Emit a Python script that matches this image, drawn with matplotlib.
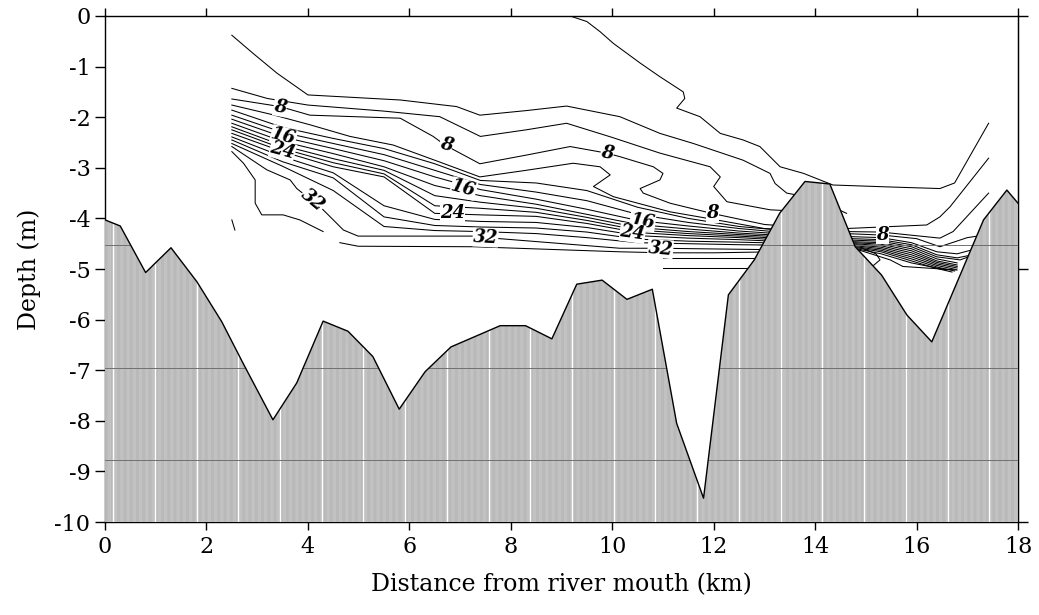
import numpy as np
import matplotlib
matplotlib.use('Agg')
import matplotlib.pyplot as plt
from matplotlib.patches import Polygon

plt.rcParams['font.family'] = 'DejaVu Serif'
plt.rcParams['hatch.linewidth'] = 0.45

# bottom profile along the section (km, m)
bed_x = [0, 0.3, 0.8, 1.3, 1.81, 2.3, 2.72, 3.31, 3.78, 4.3, 4.79, 5.28, 5.8, 6.31,
         6.82, 7.79, 8.29, 8.81, 9.3, 9.8, 10.29, 10.79, 11.27, 11.8, 12.29, 12.8,
         13.3, 13.8, 14.29, 14.79, 15.31, 15.81, 16.3, 17.32, 17.78, 18.0]
bed_z = [-4.03, -4.15, -5.07, -4.58, -5.25, -6.04, -6.86, -7.98, -7.25, -6.03, -6.23,
         -6.73, -7.77, -7.03, -6.54, -6.12, -6.12, -6.38, -5.3, -5.22, -5.6, -5.4,
         -8.05, -9.53, -5.51, -4.82, -3.9, -3.27, -3.32, -4.56, -5.12, -5.91, -6.44,
         -4.03, -3.44, -3.7]

# isohalines (psu), seaward part up to the 14 km shoal
s02_x = [9.17, 9.5, 9.76, 10.02, 10.55, 10.94, 11.4, 11.43, 11.27, 11.73, 12.13, 12.58,
         12.91, 13.31, 13.77, 14.35, 15.5, 16.46, 16.75, 17.42]
s02_z = [0, -0.11, -0.31, -0.54, -0.93, -1.2, -1.5, -1.63, -1.82, -1.99, -2.32, -2.45,
         -2.58, -2.98, -3.11, -3.34, -3.38, -3.41, -3.3, -2.12]

s04_x = [2.5, 2.92, 3.39, 4.0, 5.82, 6.93, 7.39, 8.3, 9.1, 10.15, 10.94, 11.6, 12.58,
         13.11, 13.21, 13.44, 13.7]
s04_z = [-0.38, -0.74, -1.13, -1.56, -1.66, -1.79, -1.96, -1.87, -1.78, -1.99, -2.32,
         -2.52, -2.85, -3.11, -3.31, -3.5, -3.55]

s06_x = [2.5, 3.2, 4.0, 5.5, 6.6, 7.4, 8.3, 9.1, 10.0, 10.94, 11.93, 12.13, 12.0, 12.26,
         13.11, 13.5]
s06_z = [-1.43, -1.63, -1.76, -1.88, -1.99, -2.38, -2.25, -2.12, -2.4, -2.71, -2.98,
         -3.18, -3.37, -3.67, -3.83, -3.85]

s08_x = [2.5, 3.45, 4.04, 5.82, 6.47, 6.7, 7.39, 8.3, 9.17, 9.89, 10.15, 10.81, 11.0,
         10.94, 10.55, 10.61, 11.14, 11.96, 13.0, 13.4]
s08_z = [-1.64, -1.79, -1.96, -2.02, -2.38, -2.55, -2.92, -2.75, -2.58, -2.71, -2.78,
         -2.98, -3.11, -3.24, -3.41, -3.5, -3.7, -3.9, -4.12, -4.15]

s10_x = [2.5, 3.3, 4.04, 4.83, 5.68, 6.5, 7.39, 8.3, 9.23, 9.76, 9.96, 9.63, 10.02,
         11.14, 12.0, 13.0, 13.4]
s10_z = [-1.76, -1.95, -2.15, -2.38, -2.55, -2.85, -3.18, -3.05, -2.91, -2.98, -3.14,
         -3.37, -3.57, -3.87, -4.02, -4.2, -4.22]

band_x = [2.5, 3.5, 4.5, 5.5, 6.5, 7.4, 8.5, 9.5, 10.5, 11.5, 12.5, 13.4]
s12_z = [-1.86, -2.2, -2.42, -2.62, -2.92, -3.25, -3.3, -3.45, -3.78, -4.0, -4.16, -4.24]
s14_z = [-1.96, -2.3, -2.52, -2.74, -3.05, -3.33, -3.48, -3.65, -3.92, -4.08, -4.2, -4.28]
s16_z = [-2.04, -2.39, -2.62, -2.86, -3.18, -3.43, -3.62, -3.82, -4.04, -4.15, -4.25, -4.31]
s18_z = [-2.12, -2.48, -2.72, -2.98, -3.35, -3.55, -3.72, -3.92, -4.12, -4.21, -4.29, -4.34]
s20_z = [-2.19, -2.56, -2.82, -3.05, -3.55, -3.68, -3.8, -3.98, -4.18, -4.26, -4.32, -4.37]
s22_z = [-2.25, -2.62, -2.9, -3.12, -3.75, -3.8, -3.88, -4.04, -4.23, -4.3, -4.35, -4.4]
s24_z = [-2.32, -2.68, -2.98, -3.18, -3.9, -3.93, -3.96, -4.1, -4.28, -4.34, -4.38, -4.43]
s26_z = [-2.39, -2.78, -3.1, -3.75, -4.02, -4.06, -4.08, -4.18, -4.34, -4.39, -4.42, -4.46]
s28_z = [-2.45, -2.88, -3.2, -3.97, -4.14, -4.17, -4.19, -4.27, -4.41, -4.45, -4.47, -4.49]
s30_z = [-2.52, -2.97, -3.45, -4.16, -4.24, -4.26, -4.3, -4.38, -4.48, -4.5, -4.52, -4.53]

s32_x = [2.5, 3.19, 3.65, 3.78, 4.07, 4.3, 4.7, 4.99, 7.26, 7.65, 10.15, 10.94, 13.3]
s32_z = [-2.58, -3.04, -3.24, -3.41, -3.64, -3.83, -4.23, -4.35, -4.35, -4.39, -4.59,
         -4.59, -4.62]

s34a_x = [2.5, 2.73, 2.96, 2.96, 3.09, 3.51, 3.84, 4.3]
s34a_z = [-2.68, -2.91, -3.24, -3.7, -3.93, -3.93, -4.03, -4.26]
s34b_x = [4.63, 4.99, 7.26, 10.15, 11.0, 12.0, 13.2]
s34b_z = [-4.48, -4.55, -4.56, -4.66, -4.68, -4.68, -4.66]
s34c_x = [11.0, 13.1]
s34c_z = [-4.79, -4.79]
s34d_x = [11.0, 12.8]
s34d_z = [-4.99, -4.99]
s34e_x = [2.5, 2.56]
s34e_z = [-4.03, -4.23]

# landward side of the shoal
r04_x = [14.55, 14.62, 15.3, 16.2, 16.46, 16.66, 17.42]
r04_z = [-4.2, -4.2, -4.17, -4.13, -3.97, -3.77, -2.81]
r04b_x = [14.4, 14.62]
r04b_z = [-3.8, -3.9]
r06_x = [14.6, 15.3, 16.46, 16.72, 17.42]
r06_z = [-4.26, -4.27, -4.39, -4.26, -3.5]
r08_x = [14.6, 15.33, 16.0, 16.46, 17.0, 17.2]
r08_z = [-4.3, -4.33, -4.4, -4.56, -4.38, -4.35]
r10_x = [14.7, 15.3, 15.9, 16.4, 16.8, 17.1]
r10_z = [-4.36, -4.38, -4.48, -4.66, -4.7, -4.62]
r12_x = [14.72, 15.3, 15.9, 16.4, 16.8, 17.1]
r12_z = [-4.4, -4.42, -4.52, -4.72, -4.78, -4.72]
r14_x = [14.74, 15.3, 15.9, 16.4, 16.86, 17.05]
r14_z = [-4.43, -4.45, -4.56, -4.76, -4.82, -4.75]
r16_x = [14.76, 15.3, 15.9, 16.4, 16.8]
r16_z = [-4.46, -4.48, -4.6, -4.8, -4.88]
r18_x = [14.78, 15.3, 15.9, 16.4, 16.8]
r18_z = [-4.48, -4.51, -4.64, -4.84, -4.92]
r20_x = [14.78, 15.3, 15.9, 16.4, 16.8]
r20_z = [-4.5, -4.54, -4.68, -4.87, -4.95]
r22_x = [14.8, 15.3, 15.9, 16.4, 16.8]
r22_z = [-4.52, -4.57, -4.72, -4.9, -4.98]
r24_x = [14.8, 15.3, 15.9, 16.4, 16.78]
r24_z = [-4.54, -4.6, -4.76, -4.93, -5.01]
r26_x = [14.8, 15.3, 15.9, 16.4, 16.75]
r26_z = [-4.56, -4.63, -4.8, -4.96, -5.04]
r28_x = [14.82, 15.3, 15.9, 16.4, 16.7]
r28_z = [-4.58, -4.66, -4.84, -4.99, -5.06]
r30_x = [14.82, 15.3, 15.9, 16.6]
r30_z = [-4.6, -4.7, -4.88, -5.02]
r32_x = [14.85, 15.48, 15.73, 16.8]
r32_z = [-4.62, -4.82, -4.95, -5.02]
r34_x = [14.95, 15.2, 15.28, 15.15]
r34_z = [-4.6, -4.7, -4.82, -4.93]

# contour labels
lab_text = ['8', '16', '24', '32', '8', '16', '24', '32', '8', '8', '16', '24', '32', '8']
lab_x = [3.45, 3.52, 3.5, 4.1, 6.72, 7.07, 6.85, 7.5, 9.9, 11.97, 10.6, 10.4, 10.95, 15.33]
lab_z = [-1.8, -2.38, -2.66, -3.64, -2.55, -3.41, -3.9, -4.38, -2.71, -3.9, -4.06, -4.29,
         -4.6, -4.33]
lab_rot = [-10, -15, -15, -40, -15, -15, 0, -3, -10, 0, -8, -8, -5, 0]

fig = plt.figure(figsize=(10.39, 6.15), dpi=100)
ax = fig.add_axes([0.1011, 0.1512, 0.8787, 0.8228])

lines = [(s02_x, s02_z), (s04_x, s04_z), (s06_x, s06_z), (s08_x, s08_z),
         (s10_x, s10_z), (s32_x, s32_z), (s34a_x, s34a_z), (s34b_x, s34b_z),
         (s34c_x, s34c_z), (s34d_x, s34d_z), (s34e_x, s34e_z),
         (r04_x, r04_z), (r04b_x, r04b_z), (r06_x, r06_z), (r08_x, r08_z),
         (r10_x, r10_z), (r12_x, r12_z), (r14_x, r14_z), (r16_x, r16_z),
         (r18_x, r18_z), (r20_x, r20_z), (r22_x, r22_z), (r24_x, r24_z),
         (r26_x, r26_z), (r28_x, r28_z), (r30_x, r30_z), (r32_x, r32_z),
         (r34_x, r34_z)]
for z in [s12_z, s14_z, s16_z, s18_z, s20_z, s22_z, s24_z, s26_z, s28_z, s30_z]:
    lines.append((band_x, z))
for x, z in lines:
    ax.plot(x, z, color='black', lw=0.75, zorder=2)

# bottom
verts = list(zip(bed_x, bed_z)) + [(18, -10), (0, -10)]
bed = Polygon(verts, closed=True, facecolor='#d6d6d6', edgecolor='#a8a8a8',
              hatch='|' * 14, lw=0, zorder=3)
ax.add_patch(bed)
for xv in np.arange(0.16, 18, 0.8225):
    ln = ax.axvline(xv, color='white', lw=1.0, zorder=3.2)
    ln.set_clip_path(bed)
for yv in [-4.53, -6.96, -8.77]:
    ln = ax.axhline(yv, color='#707070', lw=0.7, zorder=3.3)
    ln.set_clip_path(bed)
ax.plot([12.9, 18], [-4.53, -4.53], color='#707070', lw=0.7, zorder=3.3)
ax.plot(bed_x, bed_z, color='black', lw=1.0, zorder=4)

for t, x, z, r in zip(lab_text, lab_x, lab_z, lab_rot):
    ax.text(x, z, t, fontsize=13, fontstyle='italic', fontweight='bold', rotation=r,
            ha='center', va='center', zorder=6,
            bbox=dict(boxstyle='square,pad=0.02', fc='white', ec='none'))

ax.set_xlim(0, 18)
ax.set_ylim(-10, 0)
ax.set_xticks(range(0, 19, 2))
ax.set_yticks(range(-10, 1))
ax.set_yticklabels([str(v) for v in range(-10, 1)])
ax.tick_params(axis='both', direction='out', length=7, width=1, labelsize=16)
ax.tick_params(axis='x', top=True, pad=4, length=6)
for s in ax.spines.values():
    s.set_linewidth(1.0)
sec = ax.secondary_yaxis('right')
sec.set_yticks([0, -5, -10])
sec.set_yticklabels([])
sec.tick_params(direction='out', length=7, width=1)

ax.set_xlabel('Distance from river mouth (km)', fontsize=17, labelpad=11)
ax.set_ylabel('Depth (m)', fontsize=17, labelpad=10)

fig.savefig('out.png', dpi=100)
